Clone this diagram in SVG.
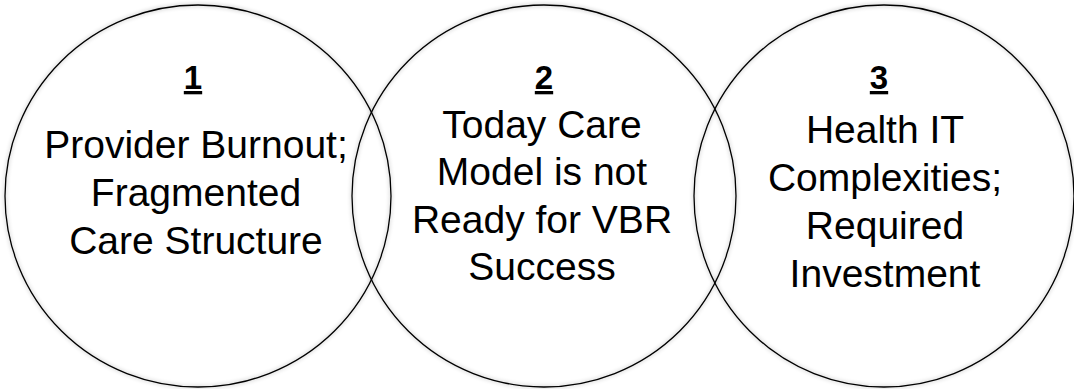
<svg xmlns="http://www.w3.org/2000/svg" width="1074" height="389" viewBox="0 0 1074 389">
  <defs>
    <filter id="glow" x="-10%" y="-10%" width="120%" height="120%">
      <feGaussianBlur in="SourceAlpha" stdDeviation="2" result="b"/>
      <feComponentTransfer in="b" result="s"><feFuncA type="linear" slope="0.35"/></feComponentTransfer>
      <feMerge><feMergeNode in="s"/><feMergeNode in="SourceGraphic"/></feMerge>
    </filter>
  </defs>
  <style>
    .c { fill: none; stroke: #000; stroke-width: 1.3; filter: url(#glow); }
    .t { font-family: "Liberation Sans", Arial, sans-serif; font-size: 39px; fill: #000; text-anchor: middle; }
    .n { font-family: "Liberation Sans", Arial, sans-serif; font-size: 33px; font-weight: bold; fill: #000; text-anchor: middle; text-decoration: underline; }
  </style>
  <rect width="1074" height="389" fill="#fff"/>
  <g id="node1">
    <ellipse class="c" cx="198" cy="196" rx="193" ry="191"/>
    <text class="n" x="193" y="89">1</text>
    <text class="t" x="196" y="158">Provider Burnout;</text>
    <text class="t" x="196" y="206">Fragmented</text>
    <text class="t" x="196" y="254">Care Structure</text>
  </g>
  <g id="node2">
    <ellipse class="c" cx="544" cy="196" rx="192" ry="191"/>
    <text class="n" x="544" y="89">2</text>
    <text class="t" x="542" y="138">Today Care</text>
    <text class="t" x="542" y="185">Model is not</text>
    <text class="t" x="542" y="233">Ready for VBR</text>
    <text class="t" x="542" y="280">Success</text>
  </g>
  <g id="node3">
    <ellipse class="c" cx="884" cy="196" rx="190" ry="191"/>
    <text class="n" x="879" y="89">3</text>
    <text class="t" x="885" y="143">Health IT</text>
    <text class="t" x="885" y="191">Complexities;</text>
    <text class="t" x="885" y="239">Required</text>
    <text class="t" x="885" y="287">Investment</text>
  </g>
  <g id="connectors"/>
</svg>
